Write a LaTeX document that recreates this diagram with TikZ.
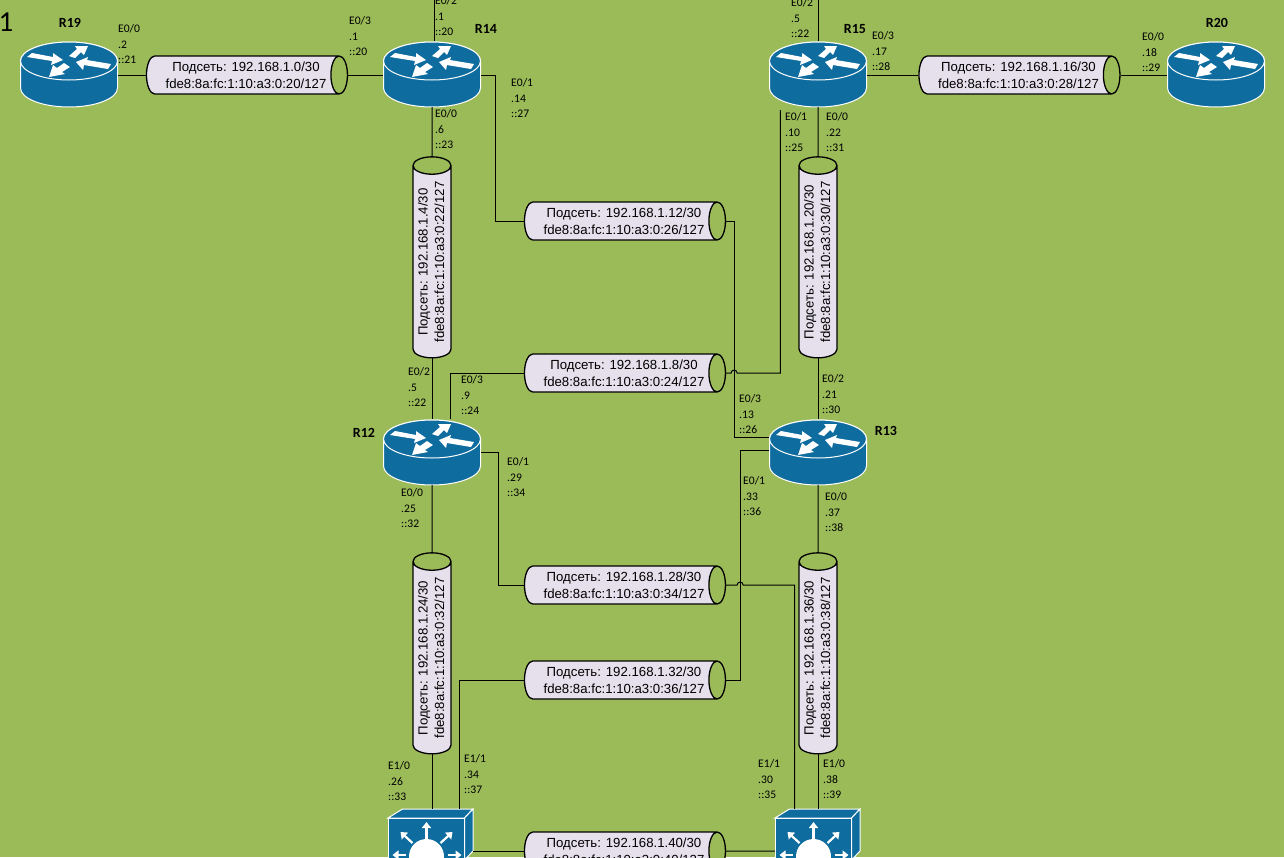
\documentclass[tikz,border=0pt]{standalone}
\usepackage{fontspec}
\setmainfont{Liberation Sans}
\newfontfamily\calibrifont{Carlito}
\usetikzlibrary{calc,positioning,arrows.meta,shapes.geometric}
\definecolor{bggreen}{HTML}{9BBB59}
\definecolor{devblue}{HTML}{0F6C9F}
\definecolor{tubefill}{HTML}{E6E0EC}
\tikzset{
  line/.style={line width=1pt, black},
  tube/.style={cylinder, draw=black, line width=1.3pt, shape border rotate=0, aspect=0.62,
    cylinder uses custom fill, cylinder body fill=tubefill, cylinder end fill=bggreen,
    minimum width=38pt, minimum height=201pt, inner sep=0pt, align=center,
    font=\fontsize{13.2}{17}\selectfont},
  vtube/.style={tube, rotate=90, font=\fontsize{13.2}{16.5}\selectfont},
  port/.style={anchor=north west, align=left, inner sep=0pt, yshift=-3pt, font=\calibrifont\fontsize{11.6}{15.8}\selectfont},
  devname/.style={inner sep=0pt, font=\calibrifont\bfseries\fontsize{14}{16}\selectfont},
  routerbox/.style={minimum width=97pt, minimum height=66pt, inner sep=0pt},
  switchbox/.style={minimum width=85pt, minimum height=84pt, inner sep=0pt},
  icon/.style={fill=devblue, draw=white, line width=1pt},
  smallarrow/.style={white, line width=2.2pt, -{Triangle[length=6pt, width=9pt]}}
}
\newcommand{\hnet}[2]{\hspace*{7pt}#1\\\hspace*{7pt}#2}
\newcommand{\vnet}[2]{\raisebox{2pt}{#1}\\\raisebox{2pt}{#2}}
\newcommand{\routericon}[2]{
  \node[routerbox] (#1) at (#2) {};
  \begin{scope}[shift={(#1.center)}]
    \path[icon] (-48.5,-13) -- (-48.5,14) arc[start angle=180, end angle=360, x radius=48.5pt, y radius=19pt]
      -- (48.5,-13) arc[start angle=0, end angle=180, x radius=48.5pt, y radius=19pt] -- cycle;
    \path[icon] (0,-13) ellipse[x radius=48.5pt, y radius=19pt];
    \fill[white] (-37,-21) -- (-16,-17) -- (-16,-21) -- (-6,-14) -- (-18,-9) -- (-17,-13) -- (-42,-17) -- cycle;
    \fill[white] (0,-18) -- (6,-16) -- (12,-22) -- (15,-19) -- (19,-28) -- (6,-28) -- (8,-25) -- cycle;
    \fill[white] (42,-10) -- (39,-5) -- (15,-9) -- (14,-4) -- (7,-12) -- (19,-17) -- (18,-14) -- cycle;
    \fill[white] (-5,-11) -- (1,-7) -- (-7,-2) -- (-4,0) -- (-20,3) -- (-16,-9) -- (-12,-6) -- cycle;
  \end{scope}
}
\newcommand{\switchicon}[2]{
  \node[switchbox] (#1) at (#2) {};
  \begin{scope}[shift={(#1.center)}]
    \path[icon] (-42.5,-33) -- (-28,-42) -- (42.5,-42) -- (34,-33) -- cycle;
    \path[icon] (34,-33) -- (42.5,-42) -- (42.5,0) -- (34,9) -- cycle;
    \path[icon] (-42.5,-33) rectangle (34,42);
    \fill[white] (-4,5.5) circle[radius=17.5pt];
    \draw[smallarrow] (-4,-12) -- (-4,-29);
    \draw[smallarrow] (-18,-8) -- (-30,-19);
    \draw[smallarrow] (10,-8) -- (22,-19);
    \draw[smallarrow] (-25,4) -- (-38,4);
    \draw[smallarrow] (17,4) -- (31,4);
  \end{scope}
}
\begin{document}
\begin{tikzpicture}[x=1pt, y=-1pt]
  \path[use as bounding box, clip] (0,0) rectangle (1284,857);
  \fill[bggreen] (0,0) rectangle (1284,857);

  \routericon{r19}{69,74}
  \routericon{r14}{432,74}
  \routericon{r15}{818,74}
  \routericon{r20}{1216,74}
  \routericon{r12}{432,452}
  \routericon{r13}{818,452}
  \switchicon{sw1}{430.5,851}
  \switchicon{sw2}{817.5,851}

  \node[tube] (net0) at (242.5,75) {\hnet{Подсеть: 192.168.1.0/30}{fde8:8a:fc:1:10:a3:0:20/127}};
  \node[tube] (net16) at (1015,75) {\hnet{Подсеть: 192.168.1.16/30}{fde8:8a:fc:1:10:a3:0:28/127}};
  \node[tube] (net12) at (620.5,221) {\hnet{Подсеть: 192.168.1.12/30}{fde8:8a:fc:1:10:a3:0:26/127}};
  \node[tube] (net8) at (620.5,373) {\hnet{Подсеть: 192.168.1.8/30}{fde8:8a:fc:1:10:a3:0:24/127}};
  \node[tube] (net28) at (620.5,585) {\hnet{Подсеть: 192.168.1.28/30}{fde8:8a:fc:1:10:a3:0:34/127}};
  \node[tube] (net32) at (620.5,680) {\hnet{Подсеть: 192.168.1.32/30}{fde8:8a:fc:1:10:a3:0:36/127}};
  \node[tube] (net40) at (620.5,851) {\hnet{Подсеть: 192.168.1.40/30}{fde8:8a:fc:1:10:a3:0:40/127}};
  \node[vtube] (net4) at (432,262) {\vnet{Подсеть: 192.168.1.4/30}{fde8:8a:fc:1:10:a3:0:22/127}};
  \node[vtube] (net20) at (818,262) {\vnet{Подсеть: 192.168.1.20/30}{fde8:8a:fc:1:10:a3:0:30/127}};
  \node[vtube] (net24) at (432,658) {\vnet{Подсеть: 192.168.1.24/30}{fde8:8a:fc:1:10:a3:0:32/127}};
  \node[vtube] (net36) at (818,658) {\vnet{Подсеть: 192.168.1.36/30}{fde8:8a:fc:1:10:a3:0:38/127}};

  \coordinate (upl) at (434,0);
  \coordinate (upr) at (818,0);

  \draw[line] (upl) -- (upl |- r14.north);
  \draw[line] (upr) -- (r15.north);
  \draw[line] (r19.east |- net0.west) -- (net0.west);
  \draw[line] (net0.east) -- (r14.west |- net0.east);
  \draw[line] (r15.east |- net16.west) -- (net16.west);
  \draw[line] (net16.east) -- (r20.west |- net16.east);
  \draw[line] (r14.south) -- (net4.east);
  \draw[line] (net4.west) -- (r12.north);
  \draw[line] (r15.south) -- (net20.east);
  \draw[line] (net20.west) -- (r13.north);
  \draw[line] (r12.south) -- (net24.east);
  \draw[line] (net24.west) -- (sw1.north -| net24.west);
  \draw[line] (r13.south) -- (net36.east);
  \draw[line] (net36.west) -- (sw2.north -| net36.west);
  \draw[line] (r14.east) ++(0,1) -- ++(15,0) |- (net12.west);
  \draw[line] (net12.east) -- ++(8,0) |- ($(r13.west)+(0,-15)$);
  \draw[line] (net8.east) -- ++(5,0) arc[start angle=180, end angle=0, radius=3pt] -| ($(r15.south west)+(11,3)$);
  \draw[line] (r12.north) ++(18,0) |- (net8.west);
  \draw[line] (r12.east) -- ++(18,0) |- (net28.west);
  \draw[line] (net28.east) -- ++(11,0) arc[start angle=180, end angle=0, radius=3pt] -| ($(sw2.north)+(-23,0)$);
  \draw[line] (net32.east) -- ++(14,0) |- ($(r13.west)+(0,-2)$);
  \draw[line] (net32.west) -| ($(sw1.north)+(28.5,0)$);
  \draw[line] (sw1.east) -- (net40.west);
  \draw[line] (net40.east) -- (sw2.west);

  \node[devname] (nr19) at (70,23) {R19};
  \node[devname] (nr14) at (486,29) {R14};
  \node[devname] (nr15) at (855,29) {R15};
  \node[devname] (nr20) at (1217,23) {R20};
  \node[devname] (nr12) at (364,433) {R12};
  \node[devname] (nr13) at (886,431) {R13};
  \node[inner sep=0pt, font=\calibrifont\fontsize{29}{30}\selectfont] (page) at (6,22) {1};

  \node[port] (p1) at (118,21) {E0/0\\.2\\::21};
  \node[port] (p2) at (349,13) {E0/3\\.1\\::20};
  \node[port] (p3) at (435,-7) {E0/2\\.1\\::20};
  \node[port] (p4) at (511,75) {E0/1\\.14\\::27};
  \node[port] (p5) at (435,106) {E0/0\\.6\\::23};
  \node[port] (p6) at (791,-5) {E0/2\\.5\\::22};
  \node[port] (p7) at (872,28) {E0/3\\.17\\::28};
  \node[port] (p8) at (1142,29) {E0/0\\.18\\::29};
  \node[port] (p9) at (785,109) {E0/1\\.10\\::25};
  \node[port] (p10) at (826,109) {E0/0\\.22\\::31};
  \node[port] (p11) at (408,364) {E0/2\\.5\\::22};
  \node[port] (p12) at (461,372) {E0/3\\.9\\::24};
  \node[port] (p13) at (507,454) {E0/1\\.29\\::34};
  \node[port] (p14) at (401,485) {E0/0\\.25\\::32};
  \node[port] (p15) at (739,391) {E0/3\\.13\\::26};
  \node[port] (p16) at (822,371) {E0/2\\.21\\::30};
  \node[port] (p17) at (743,473) {E0/1\\.33\\::36};
  \node[port] (p18) at (825,489) {E0/0\\.37\\::38};
  \node[port] (p19) at (388,758) {E1/0\\.26\\::33};
  \node[port] (p20) at (464,751) {E1/1\\.34\\::37};
  \node[port] (p21) at (758,756) {E1/1\\.30\\::35};
  \node[port] (p22) at (823,756) {E1/0\\.38\\::39};
\end{tikzpicture}
\end{document}
